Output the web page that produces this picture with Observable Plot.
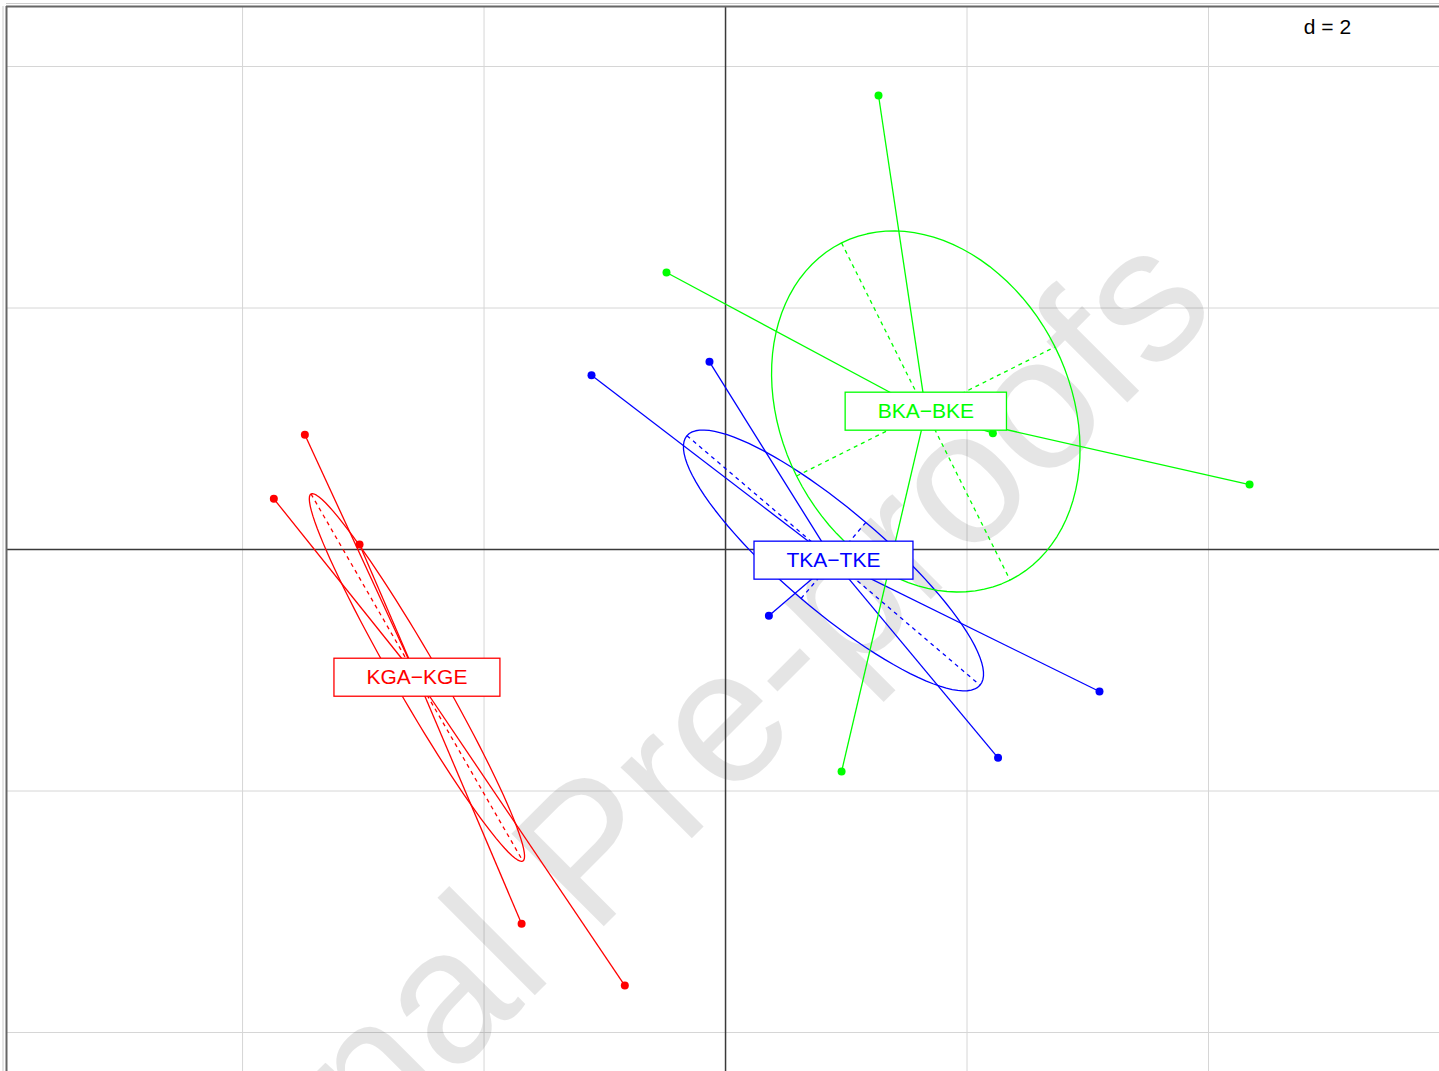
<!DOCTYPE html>
<html><head><meta charset="utf-8">
<script src="https://cdn.jsdelivr.net/npm/d3@7"></script>
<script src="https://cdn.jsdelivr.net/npm/@observablehq/plot@0.6"></script>
<style>
html,body{margin:0;padding:0;background:#fff;overflow:hidden;}
#chart{width:1439px;height:1071px;}
#chart svg{display:block;}
</style></head><body><div id="chart"></div>
<script>
// ---- data ----
const classNames = ["KGA−KGE", "TKA−TKE", "BKA−BKE"];
const classColors = ["#ff0000", "#0000ff", "#00ff00"];
const xKGA = [-3.484, -3.741, -3.031, -1.689, -0.834];
const yKGA = [0.950, 0.420, 0.041, -3.100, -3.611];
const xTKA = [-1.110, -0.133, 0.359, 3.097, 2.257];
const yTKA = [1.443, 1.554, -0.549, -1.176, -1.725];
const xBKA = [1.267, -0.489, 2.214, 4.340, 0.961];
const yBKA = [3.760, 2.294, 0.963, 0.538, -1.839];
const gridTicks = [-4, -2, 2, 4];
const zeroTicks = [0];
const xDomain = [-5.955, 5.913];
const yDomain = [-4.323, 4.497];
const scaleLabel = "d = 2";
const watermark = "Journal Pre-proofs";
const cellipse = 0.8;

// ---- derived rows ----
const classX = [xKGA, xTKA, xBKA];
const classY = [yKGA, yTKA, yBKA];
const groups = classNames.map((name, k) => {
  const pts = classX[k].map((x, i) => ({x, y: classY[k][i]}));
  const n = pts.length;
  const mx = d3.mean(pts, d => d.x), my = d3.mean(pts, d => d.y);
  const vx = d3.sum(pts, d => (d.x - mx) ** 2) / n;
  const vy = d3.sum(pts, d => (d.y - my) ** 2) / n;
  const cxy = d3.sum(pts, d => (d.x - mx) * (d.y - my)) / n;
  const delta = Math.sqrt((vx - vy) ** 2 + 4 * cxy * cxy);
  let l1 = (vx + vy + delta) / 2, l2 = vx + vy - l1;
  l1 = Math.sqrt(Math.max(l1, 0)); l2 = Math.sqrt(Math.max(l2, 0));
  let a0 = 1, b0 = (l1 * l1 - vx) / cxy;
  const nrm = Math.hypot(a0, b0); a0 /= nrm; b0 /= nrm;
  const c11 = cellipse * a0 * l1, c12 = -cellipse * b0 * l2;
  const c21 = cellipse * b0 * l1, c22 = cellipse * a0 * l2;
  const ell = d3.range(101).map(i => {
    const t = 2 * Math.PI * i / 100;
    return {x: mx + c11 * Math.cos(t) + c12 * Math.sin(t), y: my + c21 * Math.cos(t) + c22 * Math.sin(t)};
  });
  const axes = [
    {x1: mx - c11, y1: my - c21, x2: mx + c11, y2: my + c21},
    {x1: mx - c12, y1: my - c22, x2: mx + c12, y2: my + c22}
  ];
  const stars = pts.map(p => ({x1: mx, y1: my, x2: p.x, y2: p.y}));
  return {name, color: classColors[k], pts, mx, my, ell, axes, stars};
});

const marks = [
  Plot.ruleX(gridTicks, {stroke: "#d6d6d6", strokeWidth: 1}),
  Plot.ruleY(gridTicks, {stroke: "#d6d6d6", strokeWidth: 1}),
  Plot.text([watermark], {frameAnchor: "top-left", dx: 661, dy: 856, rotate: -45, fontSize: 190,
    fill: "#000", fillOpacity: 0.1, textAnchor: "middle", lineAnchor: "bottom",
    fontFamily: "'Liberation Sans', Arial, sans-serif", text: d => d}),
  Plot.ruleX(zeroTicks, {stroke: "#3a3a3a", strokeWidth: 1.5}),
  Plot.ruleY(zeroTicks, {stroke: "#3a3a3a", strokeWidth: 1.5}),
  Plot.ruleX([xDomain[0]], {stroke: "#666", strokeWidth: 2}),
  Plot.ruleY([yDomain[1]], {stroke: "#666", strokeWidth: 2}),
  Plot.ruleX([xDomain[0]], {stroke: "#ccc", strokeWidth: 1, dx: -3.5}),
  Plot.ruleY([yDomain[1]], {stroke: "#ccc", strokeWidth: 1, dy: -3}),
];
for (const g of groups) {
  marks.push(Plot.link(g.stars, {x1: "x1", y1: "y1", x2: "x2", y2: "y2", stroke: g.color, strokeWidth: 1.3}));
  marks.push(Plot.line(g.ell, {x: "x", y: "y", stroke: g.color, strokeWidth: 1.3, curve: "linear"}));
  marks.push(Plot.link(g.axes, {x1: "x1", y1: "y1", x2: "x2", y2: "y2", stroke: g.color, strokeWidth: 1.3, strokeDasharray: "4,4"}));
  marks.push(Plot.dot(g.pts, {x: "x", y: "y", r: 4, fill: g.color, stroke: "none"}));
}
marks.push(Plot.text(groups, {x: "mx", y: "my", text: "name", fill: d => d.color, fontSize: 21,
  fontFamily: "'Liberation Sans', Arial, sans-serif", textAnchor: "middle", lineAnchor: "middle"}));
marks.push(Plot.text([scaleLabel], {frameAnchor: "top-right", dx: -112, dy: 27.5, text: d => d,
  fontSize: 21, fill: "#000", textAnchor: "middle", lineAnchor: "bottom",
  fontFamily: "'Liberation Sans', Arial, sans-serif"}));

const chart = Plot.plot({
  width: 1439, height: 1071,
  marginLeft: 6, marginTop: 6, marginRight: 0, marginBottom: 0,
  x: {domain: xDomain, axis: null},
  y: {domain: yDomain, axis: null},
  color: {type: "identity"},
  style: {background: "#fff", overflow: "hidden"},
  marks
});
document.getElementById("chart").appendChild(chart);

// white label boxes with coloured borders, behind each class label
const byName = new Map(groups.map(g => [g.name, g.color]));
for (const t of chart.querySelectorAll("text")) {
  const name = t.textContent;
  if (!byName.has(name)) continue;
  const bb = t.getBBox();
  const cy = bb.y + bb.height / 2 + 0.5;
  const r = document.createElementNS("http://www.w3.org/2000/svg", "rect");
  r.setAttribute("x", bb.x - 32.5);
  r.setAttribute("y", cy - 19);
  r.setAttribute("width", bb.width + 65);
  r.setAttribute("height", 38);
  r.setAttribute("fill", "#fff");
  r.setAttribute("stroke", byName.get(name));
  r.setAttribute("stroke-width", 1.3);
  if (t.getAttribute("transform")) r.setAttribute("transform", t.getAttribute("transform"));
  t.parentNode.insertBefore(r, t);
}
</script></body></html>
